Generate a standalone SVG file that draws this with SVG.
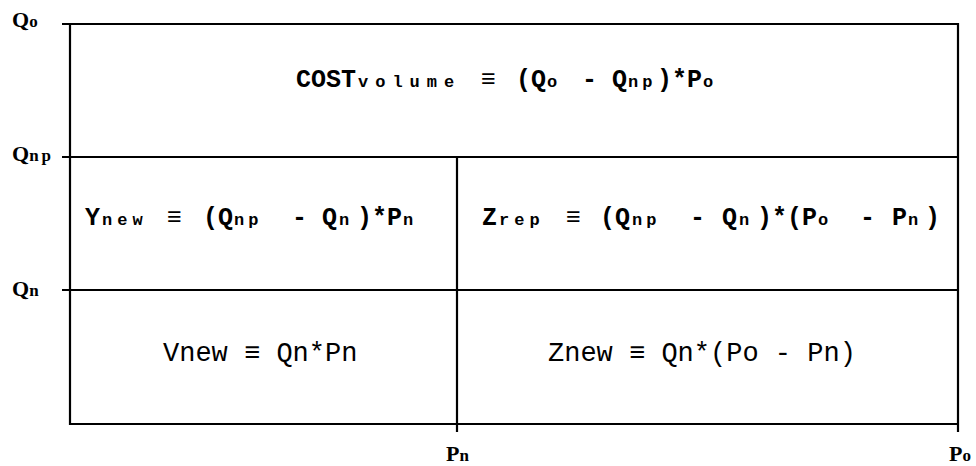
<svg xmlns="http://www.w3.org/2000/svg" width="976" height="466" viewBox="0 0 976 466">
<style>
.ln{stroke:#000;stroke-width:2.2;fill:none}
.ax{font-family:"Liberation Serif",serif;font-size:22px;font-weight:bold;fill:#000}
.axs{font-family:"Liberation Serif",serif;font-size:17px;font-weight:bold;fill:#000}
.f{font-family:"Liberation Mono",monospace;font-size:25px;font-weight:bold;fill:#000}
.s{font-family:"Liberation Mono",monospace;font-size:17px;font-weight:bold;fill:#000}
.m{font-family:"Liberation Mono",monospace;font-size:27px;fill:#000}
</style>
<rect width="976" height="466" fill="#fff"/>
<g id="frame">
<path class="ln" d="M62 24H958V432M70 24V424H958M62 157H958M62 290H958M457 157V432"/>
</g>
<g id="axis-labels">
<text class="ax" x="12" y="27">Q<tspan class="axs">o</tspan></text>
<text class="ax" x="12" y="161">Q<tspan class="axs" letter-spacing="3">np</tspan></text>
<text class="ax" x="12" y="296">Q<tspan class="axs">n</tspan></text>
<text class="ax" x="446" y="461">P<tspan class="axs">n</tspan></text>
<text class="ax" x="949" y="461">P<tspan class="axs">o</tspan></text>
</g>
<g id="cost-volume">
<text class="f" y="87"><tspan x="296">COST</tspan><tspan class="s" x="358" letter-spacing="7">volume</tspan><tspan x="481">≡</tspan><tspan x="516">(Q</tspan><tspan class="s" x="547">o</tspan><tspan x="582">-</tspan><tspan x="612">Q</tspan><tspan class="s" x="628" letter-spacing="4">np</tspan><tspan x="657">)*P</tspan><tspan class="s" x="703">o</tspan></text>
</g>
<g id="y-new">
<text class="f" y="225"><tspan x="85">Y</tspan><tspan class="s" x="102" letter-spacing="5">new</tspan><tspan x="167">≡</tspan><tspan x="203">(Q</tspan><tspan class="s" x="234" letter-spacing="4">np</tspan><tspan x="292">-</tspan><tspan x="322">Q</tspan><tspan class="s" x="339">n</tspan><tspan x="357">)*P</tspan><tspan class="s" x="403">n</tspan></text>
</g>
<g id="z-rep">
<text class="f" y="225"><tspan x="482">Z</tspan><tspan class="s" x="499" letter-spacing="5">rep</tspan><tspan x="566">≡</tspan><tspan x="600">(Q</tspan><tspan class="s" x="632" letter-spacing="4">np</tspan><tspan x="690">-</tspan><tspan x="722">Q</tspan><tspan class="s" x="739">n</tspan><tspan x="757">)*(P</tspan><tspan class="s" x="818">o</tspan><tspan x="860">-</tspan><tspan x="892">P</tspan><tspan class="s" x="908">n</tspan><tspan x="925">)</tspan></text>
</g>
<g id="v-new">
<text class="m" x="163" y="361">Vnew ≡ Qn*Pn</text>
</g>
<g id="z-new">
<text class="m" x="548" y="361">Znew ≡ Qn*(Po - Pn)</text>
</g>
<g id="connectors"></g>
</svg>
